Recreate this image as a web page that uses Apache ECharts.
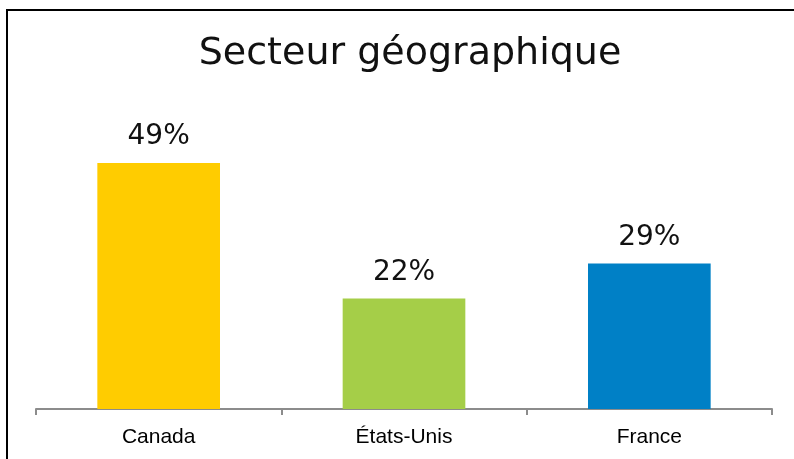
<!DOCTYPE html>
<html>
<head>
<meta charset="utf-8">
<script src="https://cdn.jsdelivr.net/npm/echarts@6/dist/echarts.min.js"></script>
<style>
  html, body { margin: 0; padding: 0; background: #fff; }
  #chart { width: 794px; height: 459px; }
</style>
</head>
<body>
<div id="chart"></div>
<script>
const categories = ['Canada', 'États-Unis', 'France'];
const shares = [49, 22, 29];
const barColors = ['#FFCC00', '#A5CE48', '#0080C6'];

const chart = echarts.init(document.getElementById('chart'));
chart.setOption({
  animation: false,
  title: {
    text: 'Secteur géographique',
    left: 405,
    textAlign: 'center',
    top: 30,
    textStyle: { fontFamily: 'DejaVu Sans', fontWeight: 'normal', fontSize: 38, color: '#111' }
  },
  graphic: [{
    type: 'rect',
    shape: { x: 7, y: 10, width: 820, height: 480 },
    style: { fill: 'none', stroke: '#000', lineWidth: 2 },
    silent: true
  }],
  grid: { left: 36, right: 22, top: 158, bottom: 50 },
  xAxis: {
    type: 'category',
    data: categories,
    axisLine: { lineStyle: { color: '#8c8c8c', width: 2 } },
    axisTick: { show: true, length: 6, lineStyle: { color: '#8c8c8c', width: 2 } },
    axisLabel: { fontFamily: 'Liberation Sans', fontSize: 21, color: '#000', margin: 18 }
  },
  yAxis: { type: 'value', min: 0, max: 50, show: false },
  series: [{
    type: 'bar',
    barWidth: '50%',
    data: shares.map((v, i) => ({ value: v, itemStyle: { color: barColors[i] } })),
    label: {
      show: true,
      position: 'top',
      distance: 12,
      formatter: '{c}%',
      fontFamily: 'DejaVu Sans',
      fontSize: 28,
      color: '#111'
    }
  }]
});
</script>
</body>
</html>
